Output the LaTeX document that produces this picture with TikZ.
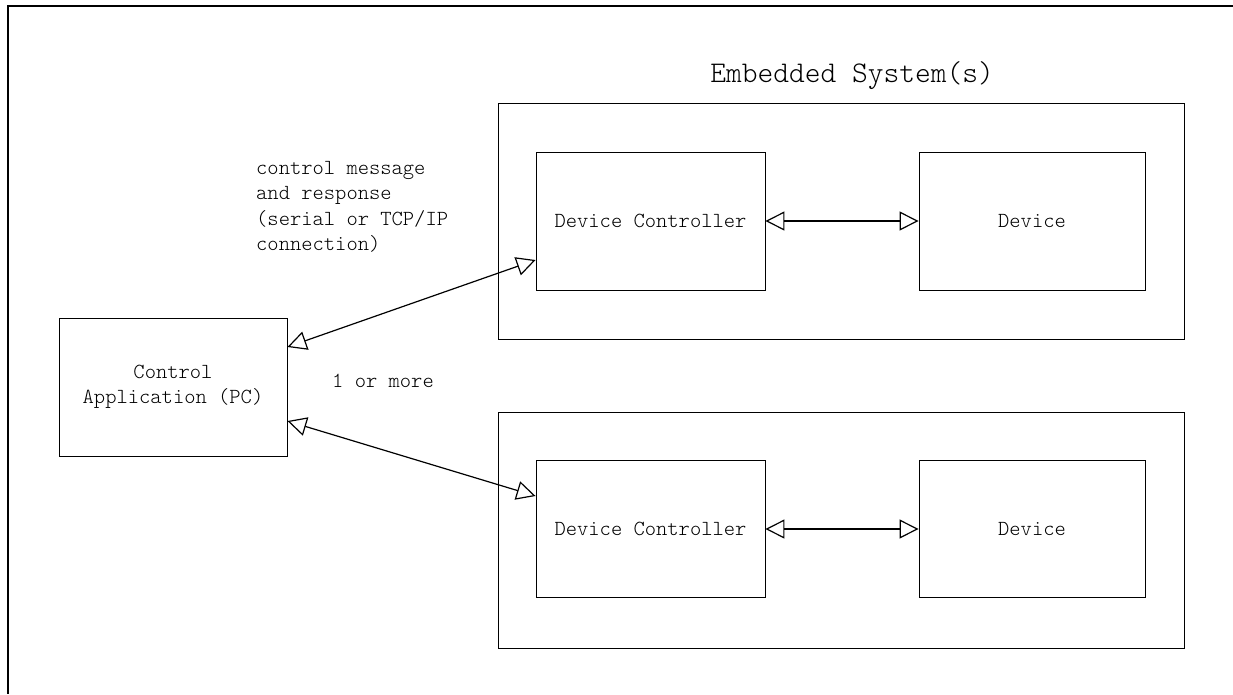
\documentclass[tikz,border=0pt]{standalone}
\usepackage{fontspec}
\setmonofont{Latin Modern Mono Light}
\usepackage{tikz}
\usetikzlibrary{arrows.meta}

\tikzset{
	box/.style={draw,line width=0.9pt,inner sep=0pt,font=\ttfamily\fontsize{21.5}{25.5}\selectfont,align=center},
	sysbox/.style={draw,line width=0.9pt,inner sep=0pt,minimum width=686pt,minimum height=236pt},
	link/.style={line width=1.2pt,{Triangle[open,length=19pt,width=19pt]}-{Triangle[open,length=19pt,width=19pt]}},
	note/.style={font=\ttfamily\fontsize{21.5}{25.5}\selectfont,inner sep=0pt}
}

\begin{document}
\begin{tikzpicture}[x=1pt,y=-1pt]
	\useasboundingbox (0,0) rectangle (1233,694);
	\draw[line width=2pt] (1233,6) -- (7.5,6) -- (7.5,694);
	
	\node[note,font=\ttfamily\fontsize{30}{34}\selectfont] (title) at (852,76) {Embedded System(s)};
	
	\node[sysbox] (sys1) at (841,221) {};
	\node[sysbox] (sys2) at (841,530.5) {};
	
	\node[box,minimum width=229pt,minimum height=138pt] (dc1) at (650.5,221) {Device Controller};
	\node[box,minimum width=226pt,minimum height=138pt] (dev1) at (1032,221) {Device};
	\node[box,minimum width=229pt,minimum height=137pt] (dc2) at (650.5,529) {Device Controller};
	\node[box,minimum width=226pt,minimum height=137pt] (dev2) at (1032,529) {Device};
	
	\node[box,minimum width=228pt,minimum height=138pt] (ctrl) at (173,387) {Control\\Application (PC)};
	
	\draw[link] (dc1.east) -- (dev1.west);
	\draw[link] (dc2.east) -- (dev2.west);
	\draw[link] ([yshift=40pt]ctrl.east) -- ([yshift=-39pt]dc1.west);
	\draw[link] ([yshift=-34pt]ctrl.east) -- ([yshift=33pt]dc2.west);
	
	\node[note,anchor=north west,align=left] (msg) at (256,161) {control message\\and response\\(serial or TCP/IP\\connection)};
	\node[note] (count) at (383,381) {1 or more};
\end{tikzpicture}
\end{document}
